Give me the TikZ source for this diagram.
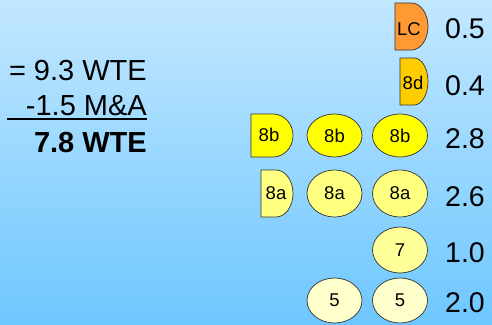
\documentclass[tikz,border=0pt]{standalone}
\usepackage{fontspec}
\setmainfont{Liberation Sans}
\usetikzlibrary{shapes.geometric}
\definecolor{bgtop}{HTML}{C2E7FF}
\definecolor{bgbot}{HTML}{6EC7FF}
\definecolor{cLC}{HTML}{FF9933}
\definecolor{c8d}{HTML}{FFCC00}
\definecolor{c8b}{HTML}{FFFF00}
\definecolor{c8a}{HTML}{FFFF80}
\definecolor{c7}{HTML}{FFFF99}
\definecolor{c5}{HTML}{FFFFCC}
\definecolor{edge}{HTML}{333333}
\tikzset{
  oval/.style={ellipse, draw=edge, line width=0.7pt, inner sep=0pt, minimum width=55pt, minimum height=44pt, font=\fontsize{18.5}{18.5}\selectfont},
  delay/.style={draw=edge, line width=0.7pt},
  lbl/.style={inner sep=0pt, font=\fontsize{18.5}{18.5}\selectfont},
  val/.style={anchor=base west, inner sep=0pt, font=\fontsize{28.5}{28.5}\selectfont},
  sum/.style={anchor=base east, inner sep=0pt, font=\fontsize{29}{29}\selectfont}
}
\begin{document}
\begin{tikzpicture}[x=1pt,y=-1pt]
\shade[top color=bgtop, bottom color=bgbot] (0,0) rectangle (492,324);
\useasboundingbox (0,0) rectangle (492,324);

% left summary
\node[sum] (s1) at (147,80) {= 9.3 WTE};
\node[sum] (s2) at (147,115) {-1.5 M\&A};
\node[sum, font=\fontsize{29}{29}\selectfont\bfseries] (s3) at (147,152) {7.8 WTE};
\draw[line width=2pt] (7,119) -- (147,119);

% LC delay
\filldraw[delay, fill=cLC] (395,3) -- (411.5,3) arc[start angle=90, end angle=-90, x radius=16.5pt, y radius=23.5pt] -- (395,50) -- cycle;
\node[lbl] (lc) at (409,29) {LC};
% 8d delay
\filldraw[delay, fill=c8d] (400,58) -- (414,58) arc[start angle=90, end angle=-90, x radius=14pt, y radius=23.5pt] -- (400,105) -- cycle;
\node[lbl] (d8) at (413,83) {8d};
% 8b delay
\filldraw[delay, fill=c8b] (251,114) -- (273,114) arc[start angle=90, end angle=-90, x radius=20pt, y radius=21.5pt] -- (251,157) -- cycle;
\node[lbl] (b8h) at (269,135) {8b};
% 8a delay
\filldraw[delay, fill=c8a] (261,170) -- (276,170) arc[start angle=90, end angle=-90, x radius=17pt, y radius=23.5pt] -- (261,217) -- cycle;
\node[lbl] (a8h) at (276,193) {8a};

% ovals
\node[oval, fill=c8b, minimum height=43pt] (b8a) at (334.5,135.5) {8b};
\node[oval, fill=c8b, minimum height=43pt] (b8b) at (400,135.5) {8b};
\node[oval, fill=c8a, minimum height=47pt] (a8a) at (334.5,193.5) {8a};
\node[oval, fill=c8a, minimum height=47pt] (a8b) at (400,193.5) {8a};
\node[oval, fill=c7, minimum height=46pt] (n7) at (400,250) {7};
\node[oval, fill=c5, minimum height=45pt] (n5a) at (334.5,300.5) {5};
\node[oval, fill=c5, minimum height=45pt] (n5b) at (400,300.5) {5};

% values
\node[val] (v1) at (445,38) {0.5};
\node[val] (v2) at (445,95) {0.4};
\node[val] (v3) at (445,148) {2.8};
\node[val] (v4) at (445,206) {2.6};
\node[val] (v5) at (445,262) {1.0};
\node[val] (v6) at (445,312) {2.0};
\end{tikzpicture}
\end{document}
